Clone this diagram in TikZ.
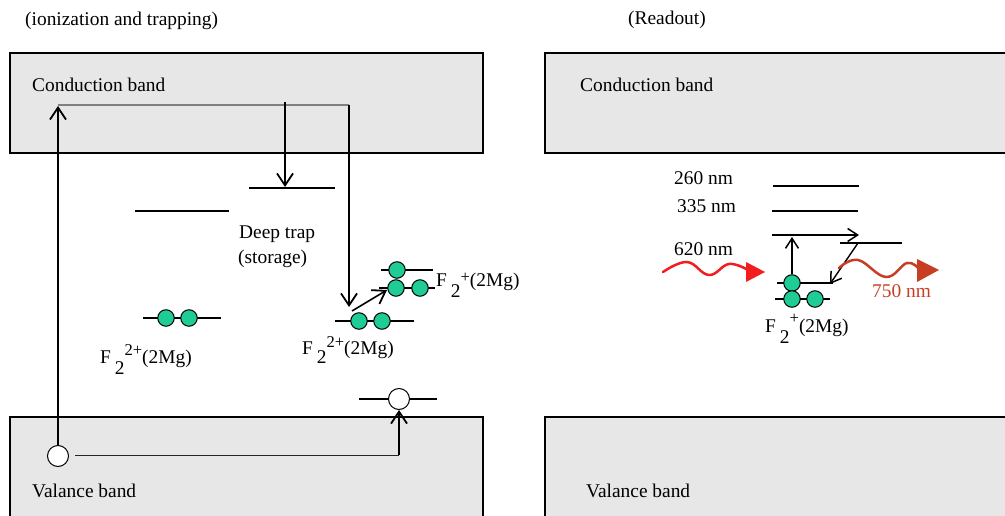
\documentclass[tikz,border=0pt]{standalone}
\usepackage{fontspec}
\setmainfont{Liberation Serif}
\usetikzlibrary{arrows.meta}
\definecolor{bandgray}{RGB}{231,231,231}
\definecolor{elecgreen}{RGB}{32,204,150}
\definecolor{wavered}{RGB}{242,30,30}
\definecolor{brick}{RGB}{200,62,35}
\newcommand{\Flab}[3]{F\kern4pt\raisebox{-#2pt}{2}\raisebox{#3pt}{\fontsize{16.5}{18}\selectfont #1}(2Mg)}
\begin{document}
\begin{tikzpicture}[x=1pt,y=-1pt,
  font=\fontsize{19.4}{23}\selectfont,
  band/.style={draw=black,line width=1.6pt,fill=bandgray},
  lvl/.style={line width=1.5pt},
  arr/.style={line width=1.6pt,-{Straight Barb[length=12pt,width=16pt,line width=1.8pt]}},
  sarr/.style={line width=1.4pt,-{Straight Barb[length=10pt,width=13pt,line width=1.5pt]}},
  elec/.style={circle,draw=black,line width=1pt,fill=elecgreen,minimum size=16.5pt,inner sep=0pt},
  hole/.style={circle,draw=black,line width=1pt,fill=white,minimum size=21pt,inner sep=0pt},
  lab/.style={anchor=base west,inner sep=0pt},
  wave/.style={line width=2.5pt,line cap=round}]
\useasboundingbox (0,0) rectangle (1005,516);
\clip (0,0) rectangle (1005,516);

% bands
\draw[band] (10,53) rectangle (483,153);
\draw[band] (545,53) rectangle (1012,153);
\draw[band] (10,417) rectangle (483,522);
\draw[band] (545,417) rectangle (1012,522);

% titles and band labels
\node[lab] (t1) at (25,26) {(ionization and trapping)};
\node[lab] (t2) at (628,25) {(Readout)};
\node[lab] (cbl) at (32,92) {Conduction band};
\node[lab] (cbr) at (580,92) {Conduction band};
\node[lab] (vbl) at (32,497) {Valance band};
\node[lab] (vbr) at (586,497) {Valance band};

% ===== left panel =====
\node[hole] (h1) at (58,456) {};
\coordinate (cbTop) at (58,106);
\coordinate (gA) at (58,105);
\coordinate (gB) at (349,105);
\coordinate (fallEnd) at (349,307);
\draw[line width=1.5pt,gray] (gA) -- (gB);
\draw[arr] (h1.north) -- (cbTop);
\draw[arr] (gB) -- (fallEnd);

\coordinate (trapIn) at (285,102);
\coordinate (trapTip) at (285,187);
\draw[arr] (trapIn) -- (trapTip);
\coordinate (trapL) at (249,188);
\coordinate (trapR) at (335,188);
\draw[lvl] (trapL) -- (trapR);
\coordinate (dpL) at (135,211);
\coordinate (dpR) at (229,211);
\draw[lvl] (dpL) -- (dpR);
\node[lab] (dt1) at (239,238) {Deep trap};
\node[lab] (dt2) at (238,263) {(storage)};

% left F2 2+ centre
\coordinate (l1L) at (143,318);
\coordinate (l1R) at (221,318);
\draw[lvl] (l1L) -- (l1R);
\node[elec] (e1) at (166,318) {};
\node[elec] (e2) at (189,318) {};
\node[lab] (f1) at (100,363) {\Flab{2+}{11}{8}};

% middle F2 2+ centre
\coordinate (l2L) at (335,321);
\coordinate (l2R) at (414,321);
\draw[lvl] (l2L) -- (l2R);
\node[elec] (e3) at (359,321) {};
\node[elec] (e4) at (382,321) {};
\node[lab] (f2) at (302,354) {\Flab{2+}{9}{7}};
\coordinate (dgA) at (352,311);
\coordinate (dgB) at (387,290);
\draw[arr] (dgA) -- (dgB);

% upper F2+ centre
\coordinate (l3L) at (381,270);
\coordinate (l3R) at (433,270);
\draw[lvl] (l3L) -- (l3R);
\node[elec] (e5) at (397,270) {};
\coordinate (l4L) at (379,288);
\coordinate (l4R) at (435,288);
\draw[lvl] (l4L) -- (l4R);
\node[elec] (e6) at (396,288) {};
\node[elec] (e7) at (420,288) {};
\node[lab] (f3) at (436,287) {\Flab{+}{10}{5}};

% hole transfer
\coordinate (hlL) at (359,399);
\coordinate (hlR) at (437,399);
\draw[lvl] (hlL) -- (hlR);
\node[hole] (h2) at (399,399) {};
\coordinate (hStart) at (75,455);
\coordinate (hCorner) at (399,455);
\draw[line width=1pt,black!85] (hStart) -- (hCorner);
\draw[arr] (hCorner) -- (h2.south);

% ===== right panel =====
\node[lab] (n260) at (674,185) {260 nm};
\node[lab] (n335) at (677,212) {335 nm};
\node[lab] (n620) at (674,255) {620 nm};
\node[lab,text=brick] (n750) at (872,297) {750 nm};

\coordinate (a1) at (773,186); \coordinate (a2) at (859,186);
\draw[lvl] (a1) -- (a2);
\coordinate (b1) at (772,211); \coordinate (b2) at (858,211);
\draw[lvl] (b1) -- (b2);
\coordinate (c1) at (772,235); \coordinate (c2) at (859,235);
\draw[sarr] (c1) -- (c2);
\coordinate (d1) at (840,243); \coordinate (d2) at (902,243);
\draw[lvl] (d1) -- (d2);
\coordinate (dgC) at (858,243); \coordinate (dgD) at (830,284);
\draw[sarr] (dgC) -- (dgD);

\coordinate (r1L) at (777,283); \coordinate (r1R) at (833,283);
\draw[lvl] (r1L) -- (r1R);
\node[elec] (e8) at (792,283) {};
\coordinate (upTip) at (792,237);
\draw[sarr] (e8.north) -- (upTip);
\coordinate (r2L) at (775,299); \coordinate (r2R) at (830,299);
\draw[lvl] (r2L) -- (r2R);
\node[elec] (e9) at (792,299) {};
\node[elec] (e10) at (815,299) {};
\node[lab] (f4) at (765,332) {\Flab{+}{11}{9}};

% waves
\draw[wave,wavered] plot[smooth,tension=0.7] coordinates {(663,272) (687,262) (709,275) (729,264) (748,270)};
\fill[wavered] (746,262) -- (765,272) -- (746,282) -- cycle;
\draw[wave,brick] plot[smooth,tension=0.7] coordinates {(839,268) (858,260) (886,277) (907,263) (919,269)};
\fill[brick] (917,259) -- (939,270) -- (917,282) -- cycle;
\end{tikzpicture}
\end{document}
